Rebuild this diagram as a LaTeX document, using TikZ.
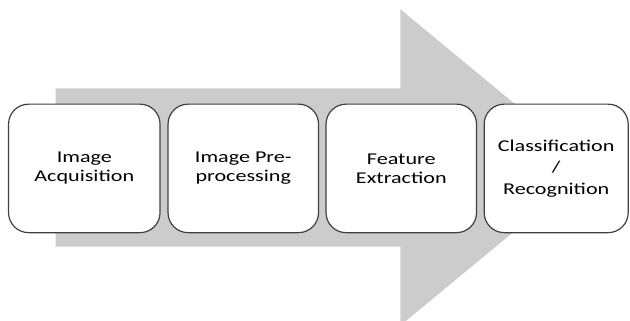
\documentclass[tikz,border=0pt]{standalone}
\usepackage{fontspec}
\setmainfont[FakeStretch=1.34]{Carlito}
\begin{document}
\begin{tikzpicture}[x=1pt,y=-1pt,
  stagebox/.style={draw=black!75, line width=1.2pt, fill=white, rounded corners=20pt,
    minimum height=128.5pt, inner sep=0pt, align=center,
    font=\fontsize{16.5}{19}\selectfont},
  bigarrow/.style={fill=black!20, draw=none}]
\useasboundingbox (0,0) rectangle (630,321);
\begin{scope}
\clip (0,0) rectangle (630,321);
\fill[bigarrow] (55.5,88.3) -- (400.4,88.3) -- (400.4,9.3) -- (591.6,167.4)
  -- (400.4,325.5) -- (400.4,246.5) -- (55.5,246.5) -- cycle;
\end{scope}
\node[stagebox, minimum width=151.5pt] (acq) at (84.3,168.4) {Image\\Acquisition};
\node[stagebox, minimum width=150.5pt] (pre) at (243.3,168.4) {Image Pre-\\processing};
\node[stagebox, minimum width=150.5pt] (feat) at (401.3,168.4) {Feature\\Extraction};
\node[stagebox, minimum width=144pt, font=\fontsize{16.5}{21.5}\selectfont] (cls) at (556.2,168.4) {Classification\\/\\Recognition};
\end{tikzpicture}
\end{document}
